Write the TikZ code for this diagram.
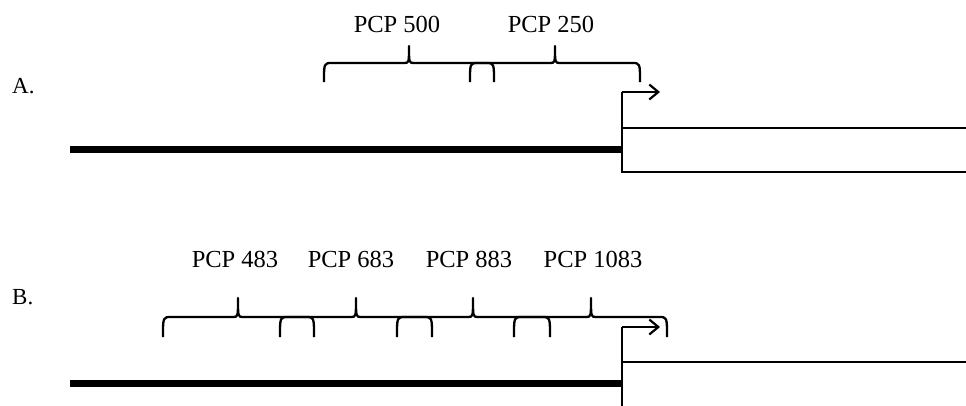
\documentclass[tikz,border=0pt]{standalone}
\usepackage{fontspec}
\setmainfont{Liberation Serif}
\usetikzlibrary{arrows.meta}
\newcommand\pcpbrace[6]{%
  \draw[bracestyle] (#1,#3) .. controls (#1,#4) .. (#1+8,#4) -- (#5-5,#4)
    .. controls (#5,#4) .. (#5,#6) .. controls (#5,#4) .. (#5+5,#4)
    -- (#2-8,#4) .. controls (#2,#4) .. (#2,#3);}
\tikzset{
  bracestyle/.style={line width=2.3pt, line join=round},
  thickbar/.style={line width=7pt},
  thinline/.style={line width=2.8pt},
  tssarrow/.style={line width=2.2pt, -{Straight Barb[length=9pt,width=15pt,line width=2.2pt]}},
  lbl/.style={anchor=base, inner sep=0pt, font=\fontsize{24.5}{28}\selectfont},
  panel/.style={anchor=base west, inner sep=0pt, font=\fontsize{23}{27}\selectfont}
}
\begin{document}
\begin{tikzpicture}[x=1pt,y=-1pt]
\useasboundingbox (0,0) rectangle (966,405);
% ---------- Panel A ----------
\node[panel] (labA) at (12,93) {A.};
\coordinate (aStart) at (70,149);
\coordinate (aJoin) at (622,149);
\coordinate (aTop) at (622,128);
\coordinate (aBot) at (622,172);
\coordinate (aTopR) at (975,128);
\coordinate (aBotR) at (975,172);
\coordinate (aArr0) at (622,92);
\coordinate (aArr1) at (660,92);
\draw[thickbar] (aStart) -- (aJoin);
\draw[thinline] (aTopR) -- (aTop) -- (aBot) -- (aBotR);
\draw[thinline] (aArr0) -- (aTop);
\draw[tssarrow] (aArr0) -- (aArr1);
\pcpbrace{324}{494}{82}{63}{409}{46}
\pcpbrace{470}{640}{82}{63}{555}{46}
\node[lbl] (p500) at (397,32) {PCP 500};
\node[lbl] (p250) at (551,32) {PCP 250};
% ---------- Panel B ----------
\node[panel] (labB) at (12,304) {B.};
\coordinate (bStart) at (70,383);
\coordinate (bJoin) at (622,383);
\coordinate (bTop) at (622,362);
\coordinate (bBot) at (622,410);
\coordinate (bTopR) at (975,362);
\coordinate (bArr0) at (622,327);
\coordinate (bArr1) at (660,327);
\draw[thickbar] (bStart) -- (bJoin);
\draw[thinline] (bTopR) -- (bTop) -- (bBot);
\draw[thinline] (bArr0) -- (bTop);
\draw[tssarrow] (bArr0) -- (bArr1);
\pcpbrace{163}{314}{337}{317}{238}{298}
\pcpbrace{280}{432}{337}{317}{356}{298}
\pcpbrace{397}{550}{337}{317}{473}{298}
\pcpbrace{514}{667}{337}{317}{591}{298}
\node[lbl] (p483) at (235,267) {PCP 483};
\node[lbl] (p683) at (351,267) {PCP 683};
\node[lbl] (p883) at (469,267) {PCP 883};
\node[lbl] (p1083) at (593,267) {PCP 1083};
\end{tikzpicture}
\end{document}
